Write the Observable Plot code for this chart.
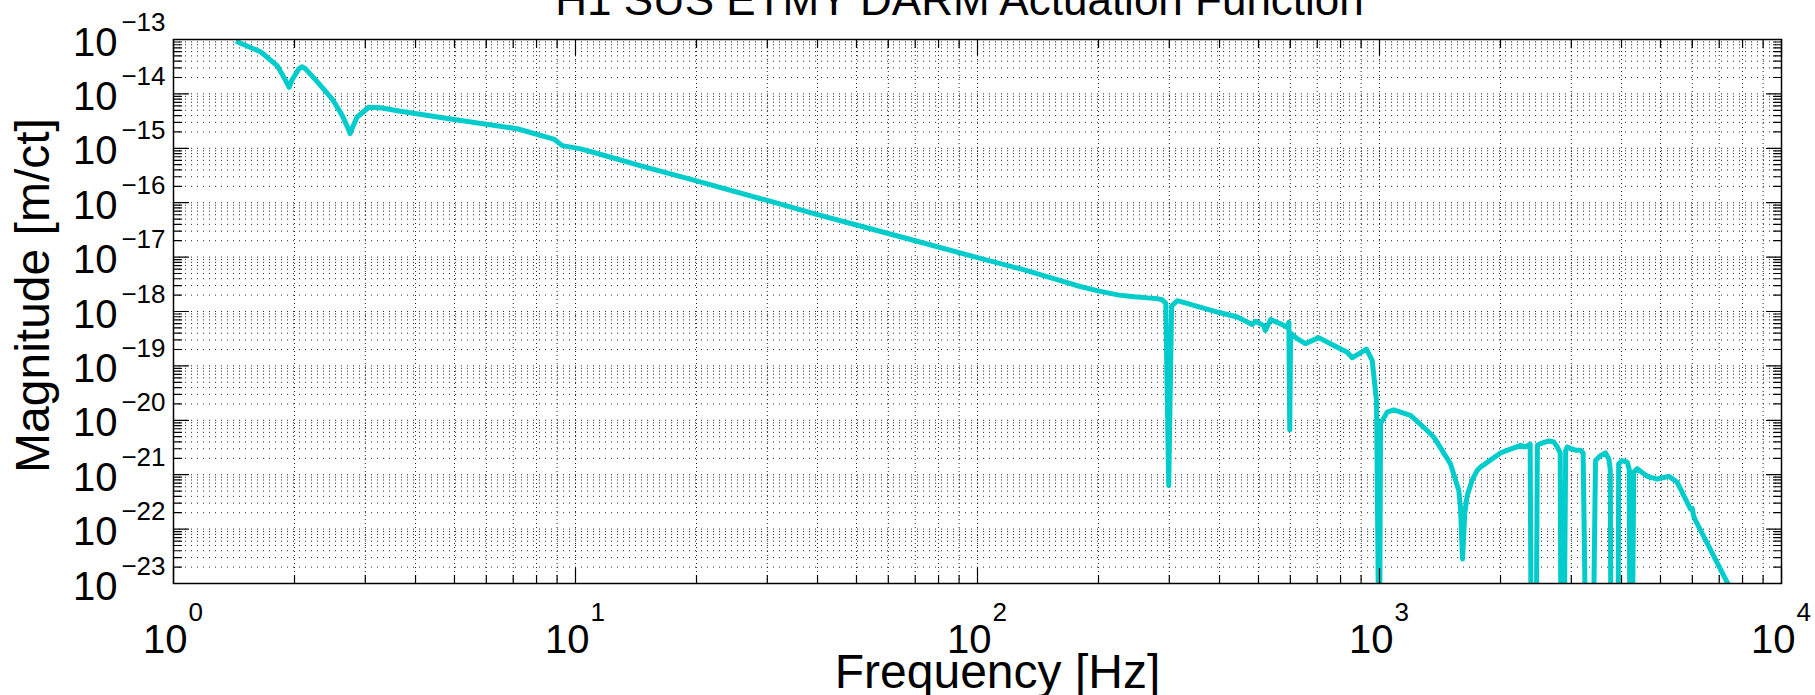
<!DOCTYPE html>
<html><head><meta charset="utf-8">
<script src="https://cdn.jsdelivr.net/npm/d3@7"></script>
<script src="https://cdn.jsdelivr.net/npm/@observablehq/plot@0.6"></script>
<style>html,body{margin:0;padding:0;background:#fff;overflow:hidden}</style>
</head><body><div id="chart"></div>
<script>
// Frequency (Hz)
const freq = [1.43, 1.65, 1.81, 1.90, 1.94, 1.97, 2.05, 2.09, 2.13, 2.28, 2.48, 2.63, 2.71, 2.75, 2.79, 2.86, 3.06, 3.27, 3.67,
  4.89, 7.16, 8.83, 9.27, 10.3, 11.4, 15, 20, 30, 40, 50, 70, 100, 130, 160, 180, 202, 225, 245, 265, 280, 288, 294,
  299, 304, 314, 395, 443, 482, 492, 515, 520, 536, 573, 589, 595, 598, 601, 624, 654, 706, 770, 831,
  855, 888, 928, 959, 983, 997, 1000, 1006, 1045, 1085, 1194, 1302, 1365, 1502, 1575, 1590, 1609, 1630, 1653, 1700,
  1750, 1783, 2000, 2243, 2308, 2370, 2385, 2452, 2470, 2515, 2637, 2714, 2767, 2815, 2829, 2877, 2905, 2931, 2987, 3074,
  3162, 3210, 3264, 3397, 3446, 3546, 3649, 3719, 3750, 3766, 3920, 3935, 4015, 4132, 4180, 4200, 4250, 4290, 4375, 4634,
  4908, 5244, 5503, 5937, 6000, 6040, 6110, 7327, 7500];
// Magnitude (m/ct)
const mag = [9.33e-14, 5.89e-14, 3.31e-14, 1.78e-14, 1.32e-14, 1.78e-14, 2.88e-14, 3.16e-14, 2.88e-14, 1.66e-14, 8.13e-15, 3.98e-15, 2.45e-15, 1.86e-15, 2.45e-15, 3.72e-15, 5.69e-15, 5.56e-15, 4.79e-15,
  3.47e-15, 2.29e-15, 1.48e-15, 1.12e-15, 9.77e-16, 7.94e-16, 4.47e-16, 2.51e-16, 1.10e-16, 6.03e-17, 3.89e-17, 2.00e-17, 9.77e-18, 5.89e-18, 3.72e-18, 2.88e-18, 2.34e-18, 2.00e-18, 1.86e-18, 1.78e-18, 1.72e-18, 1.64e-18, 1.41e-18,
  6.31e-22, 1.26e-18, 1.58e-18, 9.77e-19, 7.94e-19, 5.75e-19, 6.61e-19, 5.50e-19, 4.47e-19, 7.08e-19, 5.75e-19, 5.13e-19, 6.31e-19, 6.61e-21, 3.98e-19, 3.16e-19, 2.57e-19, 3.31e-19, 2.37e-19, 1.78e-19,
  1.41e-19, 1.66e-19, 2.04e-19, 1.26e-19, 2.29e-20, 3.16e-25, 3.16e-25, 8.71e-21, 1.41e-20, 1.55e-20, 1.23e-20, 6.92e-21, 4.90e-21, 1.58e-21, 5.13e-22, 2.51e-22, 2.82e-23, 2.00e-22, 4.17e-22, 7.94e-22,
  1.20e-21, 1.38e-21, 2.51e-21, 3.47e-21, 3.24e-21, 3.63e-21, 3.16e-25, 3.16e-25, 3.47e-21, 3.72e-21, 4.17e-21, 3.98e-21, 3.24e-21, 2.51e-21, 3.16e-25, 3.16e-25, 2.82e-21, 3.24e-21, 3.02e-21, 2.82e-21,
  2.82e-21, 2.51e-21, 3.16e-25, 3.16e-25, 1.82e-21, 2.24e-21, 2.51e-21, 1.95e-21, 1.26e-21, 3.16e-25, 3.16e-25, 1.58e-21, 1.82e-21, 1.70e-21, 1.26e-21, 3.16e-25, 3.16e-25, 1.12e-21, 1.29e-21, 9.33e-22,
  8.32e-22, 9.33e-22, 7.24e-22, 2.34e-22, 2.40e-22, 1.78e-22, 1.45e-22, 1.05e-23, 7.08e-24];

const xDecades = [1, 10, 100, 1000, 10000];
const xExponents = ["0", "1", "2", "3", "4"];
const yDecades = [1e-23, 1e-22, 1e-21, 1e-20, 1e-19, 1e-18, 1e-17, 1e-16, 1e-15, 1e-14, 1e-13];
const yExponents = ["\u221223", "\u221222", "\u221221", "\u221220", "\u221219", "\u221218", "\u221217", "\u221216", "\u221215", "\u221214", "\u221213"];
const titleText = "H1 SUS ETMY DARM Actuation Function";
const xLabelText = "Frequency [Hz]";
const yLabelText = "Magnitude [m/ct]";

const data = freq.map((f, i) => ({f, m: mag[i]}));
const xAll = d3.scaleLog().domain([1, 1e4]).ticks();
const yAll = d3.scaleLog().domain([1e-23, 1e-13]).ticks(20);
const isMajor = v => Math.abs(Math.log10(v) - Math.round(Math.log10(v))) < 1e-6;
const xMinor = xAll.filter(v => !isMajor(v));
const yMinor = yAll.filter(v => !isMajor(v));

const font = "'Liberation Sans', Arial, Helvetica, sans-serif";
const tickShape = {draw(ctx, l) { ctx.moveTo(0, 0); ctx.lineTo(0, -l); }};
const vopt = {anchor: "start", shape: tickShape, stroke: "#000", strokeWidth: 1.2};
const xTicks = (vals, len) => [
  Plot.vector(vals, {x: d => d, frameAnchor: "bottom", rotate: 0, length: len, ...vopt}),
  Plot.vector(vals, {x: d => d, frameAnchor: "top", rotate: 180, length: len, ...vopt})
];
const yTicks = (vals, len) => [
  Plot.vector(vals, {y: d => d, frameAnchor: "left", rotate: 90, length: len, ...vopt}),
  Plot.vector(vals, {y: d => d, frameAnchor: "right", rotate: 270, length: len, ...vopt})
];

const chart = Plot.plot({
  width: 1815,
  height: 695,
  marginLeft: 173,
  marginRight: 34,
  marginTop: 39,
  marginBottom: 112,
  style: {fontFamily: font, background: "#fff", color: "#000"},
  x: {type: "log", domain: [1, 1e4], axis: null},
  y: {type: "log", domain: [1e-23, 1e-13], axis: null},
  marks: [
    Plot.ruleX(xAll, {x: d => d, stroke: "#000", strokeWidth: 1, strokeDasharray: "1,3", strokeOpacity: 0.85}),
    Plot.ruleY(yAll, {y: d => d, stroke: "#000", strokeWidth: 1, strokeDasharray: "1,5", strokeOpacity: 0.85}),
    Plot.line(data, {x: "f", y: "m", stroke: "#00CCCC", strokeWidth: 5, clip: true, strokeLinejoin: "round", strokeLinecap: "butt"}),
    ...xTicks(xDecades, 15), ...xTicks(xMinor, 8),
    ...yTicks(yDecades, 15), ...yTicks(yMinor, 8),
    Plot.frame({stroke: "#000", strokeWidth: 1.5}),
    Plot.text(xDecades, {x: d => d, frameAnchor: "bottom", text: () => "10", textAnchor: "end", dx: 14, dy: 69, lineAnchor: "bottom", fontSize: 40, fill: "#000"}),
    Plot.text(xDecades, {x: d => d, frameAnchor: "bottom", text: (d, i) => xExponents[i], textAnchor: "start", dx: 15, dy: 37, lineAnchor: "bottom", fontSize: 26, fill: "#000"}),
    Plot.text(yDecades, {y: d => d, frameAnchor: "left", text: () => "10", textAnchor: "end", dx: -56, dy: 16, lineAnchor: "bottom", fontSize: 40, fill: "#000"}),
    Plot.text(yDecades, {y: d => d, frameAnchor: "left", text: (d, i) => yExponents[i], textAnchor: "end", dx: -8, dy: -9, lineAnchor: "bottom", fontSize: 26, fill: "#000"}),
    Plot.text([titleText], {frameAnchor: "top", textAnchor: "middle", dx: -18, dy: -25, lineAnchor: "bottom", fontSize: 44, fill: "#000"}),
    Plot.text([xLabelText], {frameAnchor: "bottom", textAnchor: "middle", dx: 20, dy: 104, lineAnchor: "bottom", fontSize: 48, fill: "#000"}),
    Plot.text([yLabelText], {frameAnchor: "left", textAnchor: "middle", dx: -125, dy: -16, rotate: -90, lineAnchor: "bottom", fontSize: 48, fill: "#000"})
  ]
});
document.getElementById("chart").appendChild(chart);
</script>
</body></html>
